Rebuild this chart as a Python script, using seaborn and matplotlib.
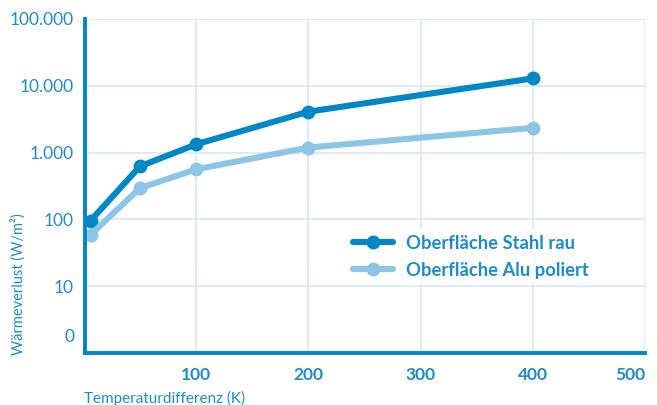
import matplotlib
matplotlib.use("Agg")
import matplotlib.pyplot as plt
import seaborn as sns
import pandas as pd
from matplotlib.ticker import FixedLocator, FixedFormatter

temp_diff = [6, 50, 100, 200, 400]
stahl_rau = [96, 623, 1330, 4100, 12900]
alu_poliert = [59, 295, 562, 1190, 2350]
series_names = ["Oberfläche Stahl rau", "Oberfläche Alu poliert"]
y_ticks = [10, 100, 1000, 10000, 100000]
y_tick_labels = ["10", "100", "1.000", "10.000", "100.000"]
x_ticks = [100, 200, 300, 400, 500]
x_tick_labels = ["100", "200", "300", "400", "500"]

df = pd.DataFrame({
    "x": temp_diff * 2,
    "y": stahl_rau + alu_poliert,
    "serie": [series_names[0]] * len(temp_diff) + [series_names[1]] * len(temp_diff),
})

sns.set_style("white")
plt.rcParams["font.family"] = ["Lato", "DejaVu Sans"]

DARK = "#0088C6"
LIGHT = "#8CC5E6"
TXT = "#1E8CC8"
GRID = "#D8E7F5"

fig = plt.figure(figsize=(6.57, 4.05), dpi=100)
ax = fig.add_axes([85/657, 1-353/405, (645-85)/657, (353-19)/405])

sns.lineplot(data=df, x="x", y="y", hue="serie", palette=[DARK, LIGHT],
             marker="o", markersize=10, markeredgewidth=0, linewidth=4.4,
             ax=ax, legend=True)

ax.set_yscale("log")
ax.set_ylim(1, 100000)
ax.set_xlim(1, 500)
ax.yaxis.set_major_locator(FixedLocator(y_ticks))
ax.yaxis.set_major_formatter(FixedFormatter(y_tick_labels))
ax.yaxis.set_minor_locator(FixedLocator([]))
ax.set_xticks(x_ticks)
ax.set_xticklabels(x_tick_labels)
ax.grid(True, color=GRID, linewidth=1.2)
ax.set_axisbelow(True)

for s in ["top", "right"]:
    ax.spines[s].set_visible(False)
for s in ["left", "bottom"]:
    ax.spines[s].set_color(DARK)
    ax.spines[s].set_linewidth(2.8)

ax.tick_params(axis="both", length=0)
ax.tick_params(axis="y", labelsize=12.5, labelcolor=TXT, pad=8)
ax.tick_params(axis="x", labelsize=12.5, labelcolor=TXT, pad=10)
xlabs = ax.get_xticklabels()
for lab in xlabs:
    lab.set_fontweight("bold")
xlabs[-1].set_horizontalalignment("right")

ax.text(-0.018, 1.75, "0", transform=ax.get_yaxis_transform(), ha="right", va="center",
        fontsize=12.5, color=TXT)

ax.set_xlabel("")
ax.set_ylabel("")
fig.text(84/657, 1-398/405, "Temperaturdifferenz (K)", ha="left", va="center",
         fontsize=11, color=TXT)
fig.text(18/657, 1-355/405, "Wärmeverlust (W/m²)", ha="center", va="bottom",
         rotation=90, fontsize=10.5, color=TXT)

leg = ax.legend(loc="upper left", bbox_to_anchor=((338-85)/560, (353-220)/334),
                frameon=True, fontsize=13.2, handlelength=2.2, labelspacing=0.55,
                borderpad=0.3, handletextpad=0.7)
leg.get_frame().set_facecolor("white")
leg.get_frame().set_edgecolor("none")
leg.get_frame().set_alpha(1)
for t in leg.get_texts():
    t.set_color(TXT)
    t.set_fontweight("bold")

fig.savefig("out.png", dpi=100)
